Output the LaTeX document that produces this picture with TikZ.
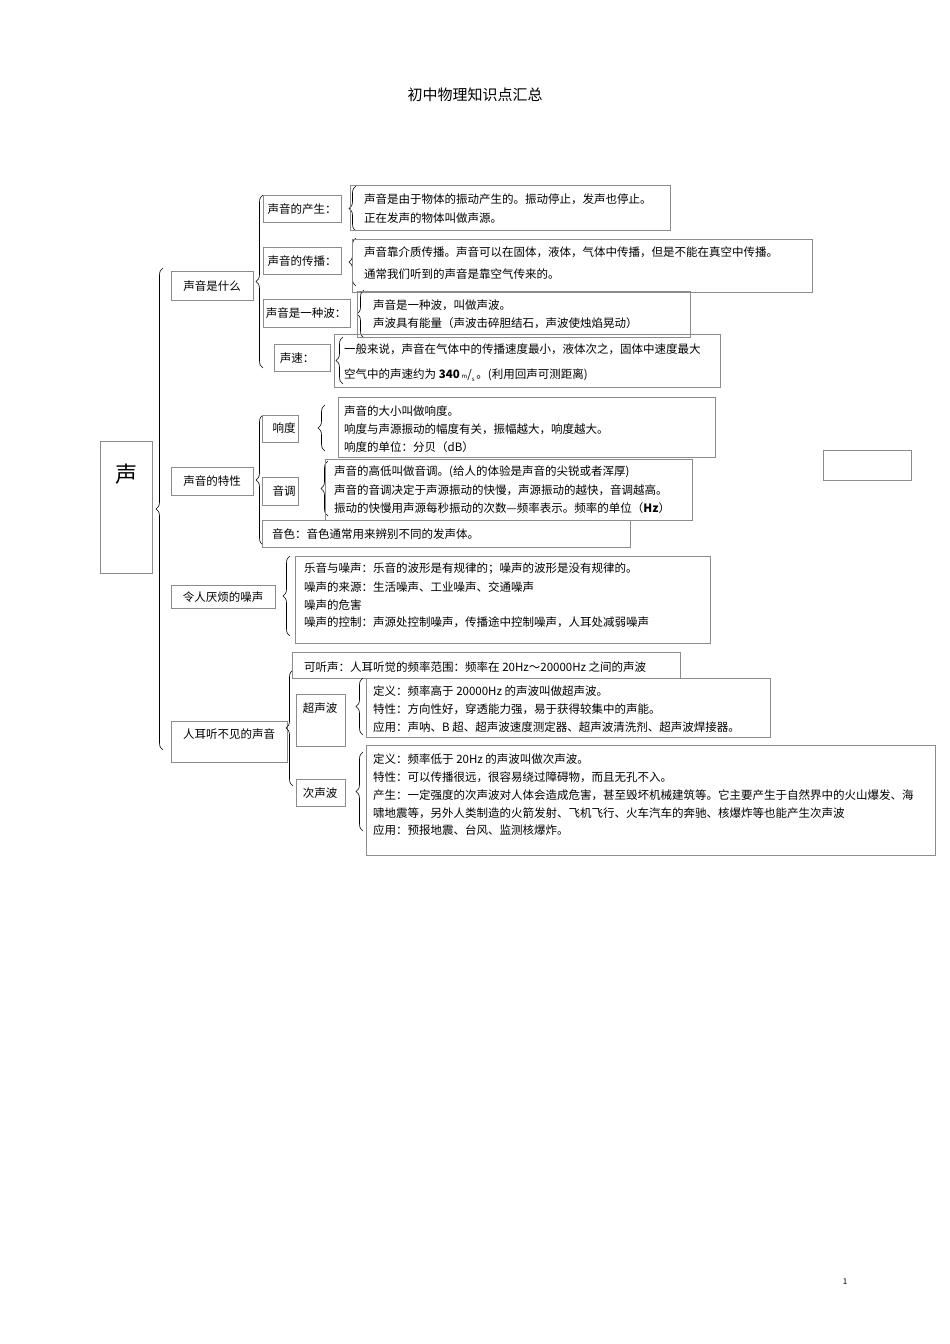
\documentclass[tikz,border=0pt]{standalone}
\usepackage{fontspec}
\setmainfont{Noto Sans CJK SC}
\usetikzlibrary{decorations.pathreplacing}
\tikzset{
  bx/.style={draw=black!45,line width=0.5pt},
  tx/.style={anchor=west,inner sep=0pt,font=\fontsize{11.5}{13}\selectfont},
  lb/.style={anchor=center,inner sep=0pt,font=\fontsize{11.5}{13}\selectfont},
  br/.style={decorate,decoration={brace,amplitude=7pt},line width=0.6pt}
}
\newcommand{\lbrc}[3]{\draw[br] (#1,#3) -- (#1,#2);}
\begin{document}
\begin{tikzpicture}[x=1pt,y=-1pt]
\useasboundingbox (0,0) rectangle (950,1344);
\node[lb,font=\fontsize{15}{18}\selectfont] (title) at (475,95) {初中物理知识点汇总};
% root
\draw[bx] (100,441) rectangle (152,573);
\node[lb,font=\fontsize{22}{24}\selectfont] (root) at (126,474) {声};
\lbrc{163}{268}{750}
% 声音是什么
\draw[bx] (171,271) rectangle (253,300);
\node[lb] (a) at (212,286) {声音是什么};
\lbrc{263}{195}{368}
\draw[bx] (263,195) rectangle (341,222);
\node[lb] (a1) at (302,209) {声音的产生：};
\lbrc{356}{186}{231}
\draw[bx] (350,185) rectangle (670,230);
\node[tx] (a1t1) at (364,199) {声音是由于物体的振动产生的。振动停止，发声也停止。};
\node[tx] (a1t2) at (364,218) {正在发声的物体叫做声源。};
\draw[bx] (263,247) rectangle (341,274);
\node[lb] (a2) at (302,261) {声音的传播：};
\lbrc{356}{238}{286}
\draw[bx] (352,239) rectangle (812,292);
\node[tx] (a2t1) at (364,252) {声音靠介质传播。声音可以在固体，液体，气体中传播，但是不能在真空中传播。};
\node[tx] (a2t2) at (364,274) {通常我们听到的声音是靠空气传来的。};
\draw[bx] (263,299) rectangle (350,327);
\node[lb] (a3) at (306,313) {声音是一种波：};
\lbrc{364}{290}{338}
\draw[bx] (357,291) rectangle (690,337);
\node[tx] (a3t1) at (373,305) {声音是一种波，叫做声波。};
\node[tx] (a3t2) at (373,323) {声波具有能量（声波击碎胆结石，声波使烛焰晃动）};
\draw[bx] (274,344) rectangle (330,371);
\node[lb] (a4) at (297,358) {声速：};
\lbrc{343}{337}{384}
\draw[bx] (334,334) rectangle (720,387);
\node[tx] (a4t1) at (344,349) {一般来说，声音在气体中的传播速度最小，液体次之，固体中速度最大};
\node[tx] (a4t2) at (344,375) {空气中的声速约为 {\bfseries 340}\,\raisebox{0pt}{\fontsize{6}{6}\selectfont m}/\raisebox{-3pt}{\fontsize{6}{6}\selectfont s}\,。(利用回声可测距离)};
% 声音的特性
\draw[bx] (171,467) rectangle (253,495);
\node[lb] (b) at (212,481) {声音的特性};
\lbrc{263}{415}{545}
\draw[bx] (262,415) rectangle (298,442);
\node[lb] (b1) at (284,428) {响度};
\lbrc{325}{405}{451}
\draw[bx] (338,397) rectangle (715,457);
\node[tx] (b1t1) at (344,411) {声音的大小叫做响度。};
\node[tx] (b1t2) at (344,429) {响度与声源振动的幅度有关，振幅越大，响度越大。};
\node[tx] (b1t3) at (344,447) {响度的单位：分贝（dB）};
\draw[bx] (262,477) rectangle (298,505);
\node[lb] (b2) at (284,491) {音调};
\lbrc{328}{461}{516}
\draw[bx] (325,459) rectangle (692,520);
\node[tx] (b2t1) at (334,472) {声音的高低叫做音调。(给人的体验是声音的尖锐或者浑厚)};
\node[tx] (b2t2) at (334,490) {声音的音调决定于声源振动的快慢，声源振动的越快，音调越高。};
\node[tx] (b2t3) at (334,508) {振动的快慢用声源每秒振动的次数—频率表示。频率的单位（{\bfseries Hz}）};
\draw[bx] (262,520) rectangle (630,547);
\node[tx] (b3) at (272,534) {音色：音色通常用来辨别不同的发声体。};
\draw[bx] (823,450) rectangle (911,480);
% 噪声
\draw[bx] (171,585) rectangle (275,608);
\node[lb] (c) at (223,597) {令人厌烦的噪声};
\lbrc{290}{556}{636}
\draw[bx] (295,556) rectangle (710,643);
\node[tx] (ct1) at (304,569) {乐音与噪声：乐音的波形是有规律的；噪声的波形是没有规律的。};
\node[tx] (ct2) at (304,587) {噪声的来源：生活噪声、工业噪声、交通噪声};
\node[tx] (ct3) at (304,605) {噪声的危害};
\node[tx] (ct4) at (304,622) {噪声的控制：声源处控制噪声，传播途中控制噪声，人耳处减弱噪声};
% 人耳听不见的声音
\draw[bx] (171,721) rectangle (287,762);
\node[lb] (d) at (229,734) {人耳听不见的声音};
\lbrc{293}{670}{786}
\draw[bx] (292,652) rectangle (680,678);
\node[tx] (d0) at (304,667) {可听声：人耳听觉的频率范围：频率在 20Hz～20000Hz 之间的声波};
\draw[bx] (296,694) rectangle (345,746);
\node[lb] (d1) at (320,708) {超声波};
\lbrc{363}{678}{735}
\draw[bx] (366,678) rectangle (770,737);
\node[tx] (d1t1) at (373,691) {定义：频率高于 20000Hz 的声波叫做超声波。};
\node[tx] (d1t2) at (373,709) {特性：方向性好，穿透能力强，易于获得较集中的声能。};
\node[tx] (d1t3) at (373,727) {应用：声呐、B 超、超声波速度测定器、超声波清洗剂、超声波焊接器。};
\draw[bx] (296,779) rectangle (345,806);
\node[lb] (d2) at (320,793) {次声波};
\lbrc{363}{752}{831}
\draw[bx] (366,745) rectangle (935,855);
\node[tx] (d2t1) at (373,759) {定义：频率低于 20Hz 的声波叫做次声波。};
\node[tx] (d2t2) at (373,777) {特性：可以传播很远，很容易绕过障碍物，而且无孔不入。};
\node[tx] (d2t3) at (373,795) {产生：一定强度的次声波对人体会造成危害，甚至毁坏机械建筑等。它主要产生于自然界中的火山爆发、海};
\node[tx] (d2t4) at (373,813) {啸地震等，另外人类制造的火箭发射、飞机飞行、火车汽车的奔驰、核爆炸等也能产生次声波};
\node[tx] (d2t5) at (373,830) {应用：预报地震、台风、监测核爆炸。};
\node[lb,font=\fontsize{8}{9}\selectfont] (pg) at (845,1282) {1};
\end{tikzpicture}
\end{document}
